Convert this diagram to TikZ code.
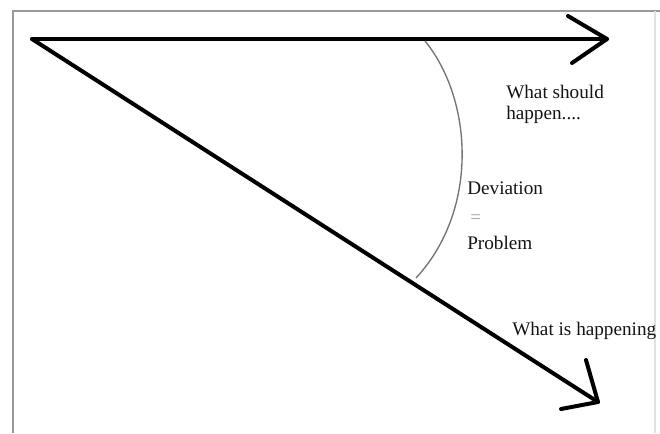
\documentclass[tikz,border=0pt]{standalone}
\usepackage{fontspec}
\setmainfont{Liberation Serif}
\begin{document}
\begin{tikzpicture}[x=0.75pt,y=-0.75pt,
  frame/.style={draw=black!40,line width=1.6pt},
  faint/.style={draw=black!12,line width=0.8pt},
  thick arrow/.style={draw=black,line width=3pt,line cap=round,line join=round},
  arcline/.style={draw=black!55,line width=1pt},
  lbl/.style={anchor=west,inner sep=0pt,font=\fontsize{14.4}{17}\selectfont,text=black!92}]
\useasboundingbox[fill=white] (0,0) rectangle (660,433);
% frame
\coordinate (ftl) at (13,11);
\coordinate (ftr) at (660,11);
\coordinate (fbl) at (13,433);
\coordinate (frt) at (655,11);
\coordinate (frb) at (655,433);
\draw[frame] (ftr) -- (ftl) -- (fbl);
\draw[faint] (frt) -- (frb);
% points
\coordinate (apex) at (32,39);
\coordinate (tip1) at (607,39);
\coordinate (b1a) at (568,16);
\coordinate (b1b) at (572,63);
\coordinate (tip2) at (598,402);
\coordinate (b2a) at (586,360);
\coordinate (b2b) at (561,409);
% arrows
\draw[thick arrow] (apex) -- (tip1);
\draw[thick arrow] (b1a) -- (tip1) -- (b1b);
\draw[thick arrow] (apex) -- (tip2);
\draw[thick arrow] (b2a) -- (tip2) -- (b2b);
% deviation arc
\coordinate (arcT) at (425,41);
\coordinate (arcB) at (416,278);
\draw[arcline] (arcT) .. controls (473,100) and (479,210) .. (arcB);
% labels
\node[lbl] (should) at (506,92) {What should};
\node[lbl] (happen) at (506,115) {happen....};
\node[lbl] (dev) at (467,188) {Deviation};
\node[lbl,text=black!35] (eq) at (470,219) {=};
\node[lbl] (prob) at (467,243) {Problem};
\node[lbl] (happening) at (512,331) {What is happening};
\end{tikzpicture}
\end{document}
